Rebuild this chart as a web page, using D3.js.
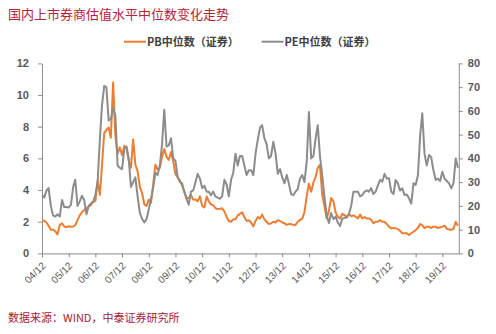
<!DOCTYPE html>
<html>
<head>
<meta charset="utf-8">
<script src="https://cdn.jsdelivr.net/npm/d3@7"></script>
<style>
  html, body { margin: 0; padding: 0; background: #ffffff; }
  svg { display: block; }
</style>
</head>
<body>
<svg id="chart" width="496" height="334"></svg>
<script>
// Monthly observations, Dec 2004 – Jul 2020
const months = [
  "2004-12",
  "2005-01","2005-02","2005-03","2005-04","2005-05","2005-06","2005-07","2005-08","2005-09","2005-10","2005-11","2005-12",
  "2006-01","2006-02","2006-03","2006-04","2006-05","2006-06","2006-07","2006-08","2006-09","2006-10","2006-11","2006-12",
  "2007-01","2007-02","2007-03","2007-04","2007-05","2007-06","2007-07","2007-08","2007-09","2007-10","2007-11","2007-12",
  "2008-01","2008-02","2008-03","2008-04","2008-05","2008-06","2008-07","2008-08","2008-09","2008-10","2008-11","2008-12",
  "2009-01","2009-02","2009-03","2009-04","2009-05","2009-06","2009-07","2009-08","2009-09","2009-10","2009-11","2009-12",
  "2010-01","2010-02","2010-03","2010-04","2010-05","2010-06","2010-07","2010-08","2010-09","2010-10","2010-11","2010-12",
  "2011-01","2011-02","2011-03","2011-04","2011-05","2011-06","2011-07","2011-08","2011-09","2011-10","2011-11","2011-12",
  "2012-01","2012-02","2012-03","2012-04","2012-05","2012-06","2012-07","2012-08","2012-09","2012-10","2012-11","2012-12",
  "2013-01","2013-02","2013-03","2013-04","2013-05","2013-06","2013-07","2013-08","2013-09","2013-10","2013-11","2013-12",
  "2014-01","2014-02","2014-03","2014-04","2014-05","2014-06","2014-07","2014-08","2014-09","2014-10","2014-11","2014-12",
  "2015-01","2015-02","2015-03","2015-04","2015-05","2015-06","2015-07","2015-08","2015-09","2015-10","2015-11","2015-12",
  "2016-01","2016-02","2016-03","2016-04","2016-05","2016-06","2016-07","2016-08","2016-09","2016-10","2016-11","2016-12",
  "2017-01","2017-02","2017-03","2017-04","2017-05","2017-06","2017-07","2017-08","2017-09","2017-10","2017-11","2017-12",
  "2018-01","2018-02","2018-03","2018-04","2018-05","2018-06","2018-07","2018-08","2018-09","2018-10","2018-11","2018-12",
  "2019-01","2019-02","2019-03","2019-04","2019-05","2019-06","2019-07","2019-08","2019-09","2019-10","2019-11","2019-12",
  "2020-01","2020-02","2020-03","2020-04","2020-05","2020-06","2020-07"
];

// PB median of listed brokers (left axis)
const pbMedian = [
  2.11,
  2.05,1.95,1.75,1.5,1.5,1.4,1.2,1.8,1.9,1.7,1.65,1.72,
  1.68,1.7,1.78,2.1,2.4,2.6,2.75,2.85,2.95,3.05,3.25,3.3,
  4.6,3.7,5.5,7.6,7.8,7.95,7.3,10.8,7.4,6.3,6.7,6.2,
  6.8,6.6,5.9,5.4,7.2,5.6,5.2,4.2,3.8,3.1,3.0,3.4,
  3.2,4.4,5.6,5.3,5.4,6.1,6.6,6.1,5.9,6.4,5.8,5.0,
  4.8,4.6,4.3,3.9,3.5,3.5,3.7,3.4,3.4,3.3,3.6,3.0,
  2.9,3.6,3.3,3.1,3.05,2.85,2.8,2.82,2.85,2.65,2.3,2.05,
  2.0,2.15,2.15,2.4,2.5,2.6,2.3,2.05,2.1,1.95,1.7,2.05,
  2.3,2.2,2.45,2.15,2.0,1.85,1.9,2.0,1.95,2.1,2.05,1.95,
  1.9,1.8,1.85,1.85,1.8,1.8,2.0,2.1,2.2,2.6,3.6,4.4,
  3.9,4.5,4.8,5.4,5.6,3.7,3.0,2.2,2.7,3.5,3.3,2.6,
  2.3,2.2,2.5,2.42,2.3,2.5,2.35,2.4,2.32,2.21,2.45,2.21,
  2.3,2.2,2.21,2.12,1.9,2.0,2.0,2.1,2.0,2.0,1.85,1.69,
  1.58,1.6,1.58,1.55,1.42,1.27,1.27,1.27,1.16,1.27,1.37,1.48,
  1.6,1.85,1.79,1.6,1.69,1.69,1.6,1.69,1.69,1.6,1.65,1.69,
  1.75,1.55,1.52,1.48,1.55,2.0,1.75
];

// PE median of listed brokers (right axis)
const peMedian = [
  24.5,
  23.5,26.5,27.5,20,16,15.5,16.5,15.5,22.5,19.5,19.5,19.3,
  20.5,28,31,20,21.8,24.3,22.5,16.5,20,21,21.8,24.6,
  30,48,62,70.5,70,56,56.5,61,58,37,36,35.5,
  44,45,40,28,30,32,24,17,14.5,13,14.5,18.5,
  23,28,34,33,37,46,60.5,45,45.5,48.5,40,39,
  32,30,29.5,26,23,20.5,26,26.5,30,33.5,31.5,27.5,
  28.5,26,26,24.5,26,24,23.5,23,24,31,29,24,
  31,34,42,37,41,41,37,33,35,35,33,42,
  48,53,54,48.5,46,40,41,47,42,33.5,35.5,32,
  29.5,33,29.5,25,24.5,26,27,31.5,33,30,38.5,59.5,
  40,41,48,54,41,33,24,16,12.8,17,14.5,15.5,
  13,11.5,14.5,15,15,16.5,20,26,26,26,24,24.6,
  26,26.5,26,27.5,25,26,28.5,31,30.2,33.5,31.5,31.6,
  26,25,30.9,29.5,26.5,27.4,24.6,24.8,23.2,21,29.5,28.8,
  33,50,59,42,37,41.4,40.5,35,30.9,31.5,30.5,34.4,
  31.5,30.5,29.5,27.4,29.5,40,36
];

const pbTicks = [0, 2, 4, 6, 8, 10, 12];
const peTicks = [0, 10, 20, 30, 40, 50, 60, 70, 80];
const yearTicks = ["2004-12","2005-12","2006-12","2007-12","2008-12","2009-12","2010-12","2011-12",
                   "2012-12","2013-12","2014-12","2015-12","2016-12","2017-12","2018-12","2019-12"];

const titleText = "国内上市券商估值水平中位数变化走势";
const sourceText = "数据来源：WIND，中泰证券研究所";
const seriesNames = ["PB中位数（证券）", "PE中位数（证券）"];

const parseMonth = d3.timeParse("%Y-%m");
const rows = months.map((m, i) => ({ date: parseMonth(m), pb: pbMedian[i], pe: peMedian[i] }));

const svg = d3.select("#chart");
const axisColor = "#8c8c8c";
const labelColor = "#595959";
const orange = "#ED7D31";
const grey = "#8c8c8c";

const plot = { left: 42, right: 458.8, top: 63.4, bottom: 253.4 };

const x = d3.scaleTime()
  .domain([parseMonth("2004-12"), new Date(2020, 6, 13)])
  .range([plot.left, plot.right]);
const yL = d3.scaleLinear().domain([0, 12]).range([plot.bottom, plot.top]);
const yR = d3.scaleLinear().domain([0, 80]).range([plot.bottom, plot.top]);

// Title
svg.append("text")
  .attr("x", 8).attr("y", 19)
  .attr("font-family", "'Noto Sans CJK SC', sans-serif")
  .attr("font-size", 13)
  .attr("fill", "#b52238")
  .text(titleText);

// Legend
const legend = [
  { name: seriesNames[0], color: orange, x: 124 },
  { name: seriesNames[1], color: grey, x: 261.5 }
];
legend.forEach(l => {
  svg.append("line")
    .attr("x1", l.x).attr("x2", l.x + 22)
    .attr("y1", 41.7).attr("y2", 41.7)
    .attr("stroke", l.color).attr("stroke-width", 2);
  svg.append("text")
    .attr("x", l.x + 23).attr("y", 45.5)
    .attr("font-family", "'Noto Sans CJK SC', sans-serif")
    .attr("font-size", 11)
    .attr("font-weight", "bold")
    .attr("fill", "#404040")
    .text(l.name);
});

// Axes
function styleAxis(g) {
  g.selectAll("path.domain").attr("stroke", axisColor).attr("stroke-width", 1);
  g.selectAll(".tick line").attr("stroke", axisColor).attr("stroke-width", 1);
}

const gLeft = svg.append("g")
  .attr("transform", `translate(${plot.left},0)`)
  .call(d3.axisLeft(yL).tickValues(pbTicks).tickSize(4).tickSizeOuter(0).tickPadding(9));
styleAxis(gLeft);
gLeft.selectAll(".tick text")
  .attr("font-family", "'Liberation Sans', Arial, sans-serif")
  .attr("font-size", 11).attr("font-weight", "bold").attr("fill", labelColor);

const gRight = svg.append("g")
  .attr("transform", `translate(${plot.right},0)`)
  .call(d3.axisRight(yR).tickValues(peTicks).tickSize(4).tickSizeOuter(0).tickPadding(5));
styleAxis(gRight);
gRight.selectAll(".tick text")
  .attr("font-family", "'Liberation Sans', Arial, sans-serif")
  .attr("font-size", 11).attr("font-weight", "bold").attr("fill", labelColor);

const gBottom = svg.append("g")
  .attr("transform", `translate(0,${plot.bottom})`)
  .call(d3.axisBottom(x).tickValues(yearTicks.map(parseMonth))
    .tickFormat(d3.timeFormat("%y/%m")).tickSize(4).tickSizeOuter(0));
styleAxis(gBottom);
gBottom.selectAll(".tick text")
  .attr("font-family", "'Liberation Sans', Arial, sans-serif")
  .attr("font-size", 10).attr("fill", labelColor)
  .attr("text-anchor", "end")
  .attr("dy", null).attr("y", null)
  .attr("transform", "translate(2,11) rotate(-45)")
  .attr("dominant-baseline", "middle");

// Series lines
const linePB = d3.line().x(d => x(d.date)).y(d => yL(d.pb));
const linePE = d3.line().x(d => x(d.date)).y(d => yR(d.pe));

svg.append("path").datum(rows)
  .attr("fill", "none").attr("stroke", orange).attr("stroke-width", 2)
  .attr("stroke-linejoin", "round").attr("d", linePB);
svg.append("path").datum(rows)
  .attr("fill", "none").attr("stroke", grey).attr("stroke-width", 2)
  .attr("stroke-linejoin", "round").attr("d", linePE);

// Source note
svg.append("text")
  .attr("x", 8).attr("y", 321.5)
  .attr("font-family", "'Noto Sans CJK SC', sans-serif")
  .attr("font-size", 11)
  .attr("fill", "#a3203a")
  .text(sourceText);
</script>
</body>
</html>
